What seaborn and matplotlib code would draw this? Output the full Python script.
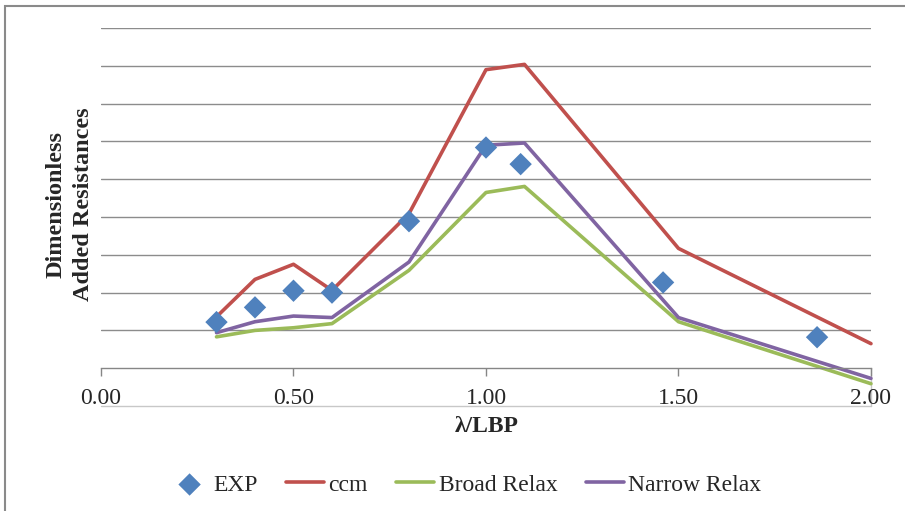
import numpy as np
import pandas as pd
import seaborn as sns
from matplotlib import pyplot as plt
from matplotlib.patches import Rectangle

# values (y in gridline units, no y tick labels shown)
x_exp = [0.30, 0.40, 0.50, 0.60, 0.80, 1.00, 1.09, 1.46, 1.86]
exp = [1.22, 1.61, 2.05, 2.00, 3.89, 5.84, 5.40, 2.27, 0.82]

x_calc = [0.3, 0.4, 0.5, 0.6, 0.8, 1.0, 1.1, 1.5, 2.0]
ccm = [1.36, 2.35, 2.75, 2.06, 4.09, 7.90, 8.04, 3.17, 0.65]
broad = [0.83, 1.00, 1.07, 1.18, 2.59, 4.65, 4.81, 1.23, -0.41]
narrow = [0.94, 1.23, 1.38, 1.34, 2.81, 5.90, 5.96, 1.34, -0.27]

x_ticks = [0.0, 0.5, 1.0, 1.5, 2.0]

sns.set_theme(style="white")
plt.rcParams['font.family'] = ['Liberation Serif', 'DejaVu Serif']

fig = plt.figure(figsize=(9.05, 5.11), dpi=100)
ax = fig.add_axes([0.1116, 0.2055, 0.8508, 0.7395])

# gridlines
for g in range(1, 10):
    ax.axhline(g, color='#8c8c8c', lw=1.0, zorder=0)

sns.lineplot(x=x_calc, y=ccm, color='#C0504D', lw=2.6, label='ccm', ax=ax, clip_on=False)
sns.lineplot(x=x_calc, y=broad, color='#9BBB59', lw=2.6, label='Broad Relax', ax=ax, clip_on=False)
sns.lineplot(x=x_calc, y=narrow, color='#8064A2', lw=2.6, label='Narrow Relax', ax=ax, clip_on=False)
sns.scatterplot(x=x_exp, y=exp, marker='D', s=130, color='#4F81BD', edgecolor='none',
                label='EXP', ax=ax, zorder=5, clip_on=False)

ax.set_xlim(0, 2)
ax.set_ylim(-1, 9)

for s in ['top', 'left', 'right']:
    ax.spines[s].set_visible(False)
ax.spines['bottom'].set_position(('data', 0))
ax.spines['bottom'].set_color('#868686')
ax.spines['bottom'].set_linewidth(1.0)

# lower edge of the plot area
ax.plot([0, 2], [-1, -1], color='#c8c8c8', lw=1.0, clip_on=False, zorder=0)
ax.plot([2, 2], [-1, 0], color='#c8c8c8', lw=1.0, clip_on=False, zorder=0)

ax.set_xticks(x_ticks)
ax.set_xticklabels(['%.2f' % t for t in x_ticks])
ax.set_yticks([])
ax.tick_params(axis='x', direction='out', length=6, width=1, color='#868686',
               labelsize=17, pad=8, bottom=True)

fig.text(0.538, 0.166, 'λ/LBP', fontsize=17, fontweight='bold', ha='center', va='center')
fig.text(0.077, 0.60, 'Dimensionless\nAdded Resistances', rotation=90, fontsize=17.5,
         fontweight='bold', ha='center', va='center', linespacing=1.45)

handles, labels = ax.get_legend_handles_labels()
order = [3, 0, 1, 2]
ax.legend([handles[i] for i in order], [labels[i] for i in order], ncol=4,
          loc='center', bbox_to_anchor=(0.515, 0.051), bbox_transform=fig.transFigure,
          frameon=False, fontsize=17, handlelength=1.6, handletextpad=0.2,
          columnspacing=1.2)

# outer chart frame (right and bottom edges fall outside the picture)
fig.add_artist(Rectangle((0.0055, -0.2), 1.3, 1.188, transform=fig.transFigure,
                         fill=False, ec='#8a8a8a', lw=1.5))

fig.savefig('out.png', dpi=100)
